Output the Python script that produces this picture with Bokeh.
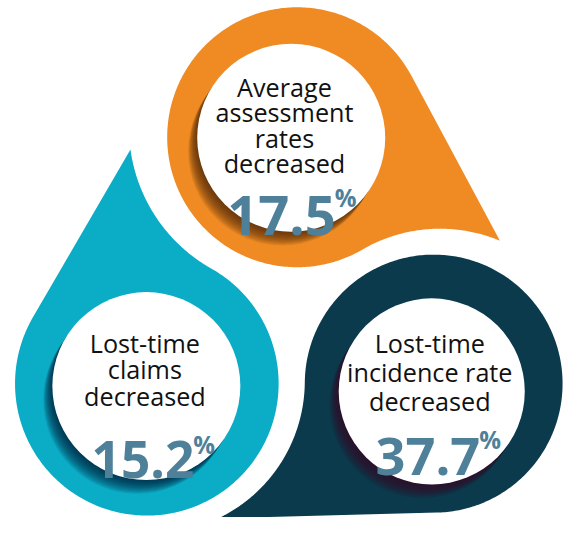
import numpy as np
from bokeh.plotting import figure
from bokeh.models import Range1d
from bokeh.core.properties import value
from bokeh.embed import file_html
from bokeh.resources import INLINE

# ---- data ----
categories = ["Average assessment rates decreased",
              "Lost-time claims decreased",
              "Lost-time incidence rate decreased"]
label_lines = [["Average", "assessment", "rates", "decreased"],
               ["Lost-time", "claims", "decreased"],
               ["Lost-time", "incidence rate", "decreased"]]
values = [17.5, 15.2, 37.7]

# ---- styles / layout ----
colors = ["#EF8B22", "#0AACC6", "#0A3A4C"]
shadow_colors = ["#4A2608", "#041C33", "#3A0C24"]
num_color = "#4E809A"
centers = [(306, 141), (151, 395), (447, 395)]
outer_r = [134, 136, 133]
tip_angle = [27, 266, 148]
tip_dist = [235, 242, 262]
fillet_r = [160, 167, 157]
inner_c = [(300, 141.5), (150.5, 397.5), (445, 403)]
inner_r = [97, 97, 96]
line_y = [[89, 115, 142, 168], [353, 380, 408], [353, 383, 413]]
text_x = [293, 149, 443]
num_split = [346, 200, 495]
num_base = [222, 473, 470]
pct_base = [203, 458, 453]
num_size = [56, 53, 54]

W, H = 582, 533
PW, PH = 564, 517
s = PW / W

p = figure(width=PW, height=PH, x_range=Range1d(0, W), y_range=Range1d(H, 0),
           output_backend="svg", toolbar_location=None, min_border=0)
p.axis.visible = False
p.grid.visible = False
p.outline_line_color = None
p.background_fill_color = "white"
p.border_fill_color = "white"


def drop(cx, cy, R, ang, D, rf):
    a = np.radians(ang)
    u = np.array([np.cos(a), np.sin(a)])
    v = np.array([-np.sin(a), np.cos(a)])
    c = np.array([cx, cy], float)
    T = c + D * u
    phi_s = a - np.arccos(R / D)
    L = R + rf
    fx = (L * L - rf * rf + D * D) / (2 * D)
    fy = np.sqrt(max(L * L - fx * fx, 0))
    Cf = c + fx * u + fy * v
    phi_p = a + np.arctan2(fy, fx)
    P = c + R * np.array([np.cos(phi_p), np.sin(phi_p)])
    th = np.linspace(phi_s, phi_p - 2 * np.pi, 300)
    bx = cx + R * np.cos(th)
    by = cy + R * np.sin(th)
    b0 = np.arctan2(P[1] - Cf[1], P[0] - Cf[0])
    b1 = np.arctan2(T[1] - Cf[1], T[0] - Cf[0])
    while b1 - b0 > np.pi:
        b1 -= 2 * np.pi
    while b1 - b0 < -np.pi:
        b1 += 2 * np.pi
    tt = np.linspace(b0, b1, 120)
    fxs = Cf[0] + rf * np.cos(tt)
    fys = Cf[1] + rf * np.sin(tt)
    xs = np.concatenate([[T[0]], bx, fxs])
    ys = np.concatenate([[T[1]], by, fys])
    return xs, ys


for i in range(3):
    xs, ys = drop(centers[i][0], centers[i][1], outer_r[i], tip_angle[i],
                  tip_dist[i], fillet_r[i])
    p.patch(xs, ys, fill_color=colors[i], line_color=None)

# shadows + inner circles
sd = np.array([-0.55, 0.83])
n = 12
for i in range(3):
    icx, icy = inner_c[i]
    for j in range(1, n + 1):
        off = 17.0 * j / n
        p.circle(icx + off * sd[0], icy + off * sd[1], radius=inner_r[i],
                 fill_color=shadow_colors[i], fill_alpha=0.11, line_color=None)
    p.circle(icx, icy, radius=inner_r[i], fill_color="white", line_color=None)

# texts
for i in range(3):
    lines = label_lines[i]
    p.text(x=[text_x[i]] * len(lines), y=line_y[i][:len(lines)], text=lines,
           text_font=value("Open Sans"), text_font_size=f"{26 * s:.1f}px",
           text_color="#111111", text_align="center", text_baseline="alphabetic")
    p.text(x=[num_split[i]], y=[num_base[i]], text=[f"{values[i]:.1f}"],
           text_font=value("Open Sans"), text_font_style="bold",
           text_font_size=f"{num_size[i] * s:.1f}px", text_color=num_color,
           text_align="right", text_baseline="alphabetic")
    p.text(x=[num_split[i] - 1], y=[pct_base[i]], text=["%"],
           text_font=value("Open Sans"), text_font_style="bold",
           text_font_size=f"{25 * s:.1f}px", text_color=num_color,
           text_align="left", text_baseline="alphabetic")

open("out.html", "w").write(file_html(p, INLINE))
